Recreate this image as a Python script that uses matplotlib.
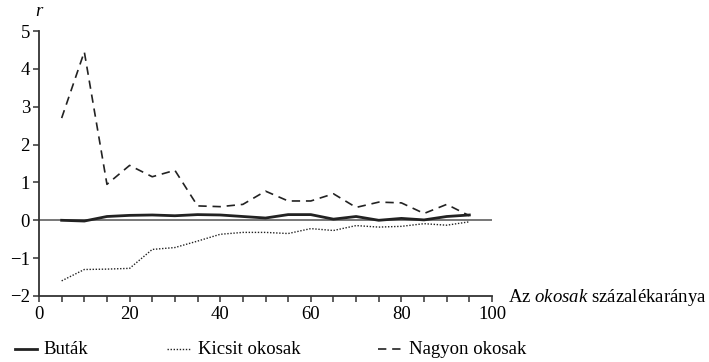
import matplotlib
matplotlib.use("Agg")
import matplotlib.pyplot as plt
from matplotlib.lines import Line2D
from matplotlib.ticker import MultipleLocator

plt.rcParams['font.family'] = ['Liberation Serif', 'DejaVu Serif']
plt.rcParams['mathtext.fontset'] = 'custom'
plt.rcParams['mathtext.it'] = 'Liberation Serif:italic'
plt.rcParams['mathtext.rm'] = 'Liberation Serif'

x = [5, 10, 15, 20, 25, 30, 35, 40, 45, 50, 55, 60, 65, 70, 75, 80, 85, 90, 95]
butak = [0.0, -0.02, 0.10, 0.13, 0.14, 0.12, 0.15, 0.14, 0.10, 0.06, 0.15, 0.15,
         0.03, 0.10, 0.00, 0.05, 0.01, 0.10, 0.14]
kicsit = [-1.60, -1.30, -1.29, -1.27, -0.77, -0.72, -0.55, -0.37, -0.32, -0.32,
          -0.35, -0.22, -0.27, -0.14, -0.18, -0.16, -0.09, -0.13, -0.04]
nagyon = [2.70, 4.45, 0.95, 1.45, 1.15, 1.32, 0.38, 0.36, 0.42, 0.77, 0.51, 0.51,
          0.70, 0.34, 0.48, 0.46, 0.18, 0.42, 0.12]
labels = ["Buták", "Kicsit okosak", "Nagyon okosak"]
xticks = [0, 20, 40, 60, 80, 100]
yticks = [-2, -1, 0, 1, 2, 3, 4, 5]

fig = plt.figure(figsize=(7.09, 3.62), dpi=100)
ax = fig.add_axes([39/709, 1-296/362, (492-39)/709, (296-31)/362])

ax.plot([0, 100], [0, 0], color='#777777', lw=1.4, zorder=1)
ax.plot(x, kicsit, color='#222222', lw=1.0, ls=(0, (1, 1.2)), zorder=2)
ax.plot(x, nagyon, color='#222222', lw=1.2, ls=(0, (5, 3.5)), zorder=2)
ax.plot(x, butak, color='#222222', lw=2.0, zorder=3)

ax.set_xlim(0, 100)
ax.set_ylim(-2, 5)
ax.set_xticks(xticks)
ax.set_yticks(yticks)
ax.xaxis.set_minor_locator(MultipleLocator(5))
for s in ['top', 'right']:
    ax.spines[s].set_visible(False)
for s in ['left', 'bottom']:
    ax.spines[s].set_color('#333333')
    ax.spines[s].set_linewidth(1.3)
ax.tick_params(axis='x', which='both', direction='out', length=4.5, width=1.1,
               color='#333333', labelsize=13.5, pad=3)
ax.tick_params(axis='y', which='both', direction='out', length=4.5, width=1.1,
               color='#333333', labelsize=13.5, pad=2)

fig.text(39/709, 1-11/362, 'r', style='italic', fontsize=13.5, ha='center', va='center')
fig.text(508/709, 1-297/362, 'Az $\\it{okosak}$ százalékaránya', fontsize=13.5,
         ha='left', va='center')

ly = 1-349/362
fig.add_artist(Line2D([15/709, 37/709], [ly, ly], transform=fig.transFigure,
                      color='#222222', lw=2.0))
fig.text(43/709, ly, labels[0], fontsize=13.5, ha='left', va='center')
fig.add_artist(Line2D([167/709, 190/709], [ly, ly], transform=fig.transFigure,
                      color='#222222', lw=1.0, ls=(0, (1, 1.2))))
fig.text(198/709, ly, labels[1], fontsize=13.5, ha='left', va='center')
fig.add_artist(Line2D([378/709, 403/709], [ly, ly], transform=fig.transFigure,
                      color='#222222', lw=1.2, ls=(0, (5, 3.5))))
fig.text(409/709, ly, labels[2], fontsize=13.5, ha='left', va='center')

fig.savefig('out.png', dpi=100)
